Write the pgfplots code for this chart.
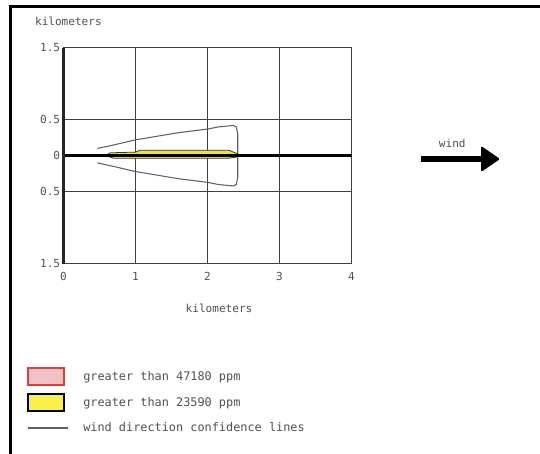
\documentclass[border=0pt]{standalone}
\usepackage{pgfplots}
\pgfplotsset{compat=1.18}
\usepackage{fontspec}
\setmainfont{DejaVu Sans Mono}
\definecolor{txt}{HTML}{505050}
\definecolor{gridc}{HTML}{404040}
\definecolor{conf}{HTML}{606060}
\definecolor{zoney}{HTML}{EDE43A}
\definecolor{legy}{HTML}{FBF04A}
\definecolor{legpink}{HTML}{F0C2C6}
\definecolor{legred}{HTML}{E03C3C}
\newcommand{\tfont}{\fontsize{8.3}{10}\selectfont}
\newcommand{\lfont}{\fontsize{8.9}{10}\selectfont}
\begin{document}
\begin{tikzpicture}
\begin{axis}[
  x=54pt, y=54pt,
  xmin=0, xmax=4, ymin=-1.5, ymax=1.5,
  clip=false,
  axis line style={gridc, line width=1pt},
  grid=major,
  grid style={gridc, line width=0.9pt},
  xtick={0,1,2,3,4},
  ytick={-1.5,-0.5,0,0.5,1.5},
  yticklabels={1.5,0.5,0,0.5,1.5},
  tick style={draw=none},
  /pgf/number format/assume math mode=true,
  ticklabel style={font=\tfont, text=txt},
  yticklabel style={anchor=east, xshift=1pt},
  xticklabel style={anchor=north, yshift=-3pt},
  legend style={at={(axis cs:-0.507,-2.93)}, anchor=north west, draw=none, fill=none,
    font=\lfont, text=txt, inner sep=0pt, row sep=5pt,
    nodes={inner sep=1pt},
    /tikz/every odd column/.append style={column sep=9.5pt}},
  legend cell align=left,
]
% wind direction confidence lines
\addplot[conf, line width=0.8pt, forget plot] coordinates {
  (0.47,0.10) (0.7,0.15) (1.0,0.22) (1.3,0.27) (1.6,0.32) (2.0,0.37) (2.15,0.40) (2.36,0.42) (2.40,0.40)
  (2.42,0.30) (2.42,0.0) (2.42,-0.30) (2.40,-0.40) (2.36,-0.42) (2.15,-0.40) (2.0,-0.37)
  (1.6,-0.32) (1.3,-0.27) (1.0,-0.22) (0.7,-0.15) (0.47,-0.10)};
% threat zone > 23590 ppm
\addplot[draw=black!80, line width=0.6pt, fill=zoney, forget plot] coordinates {
  (0.58,0) (0.65,0.04) (1.0,0.05) (1.06,0.075) (2.3,0.075) (2.42,0.025) (2.42,-0.015)
  (2.3,-0.035) (0.7,-0.035) (0.58,0)} -- cycle;
% downwind axis
\addplot[black, line width=2pt, forget plot] coordinates {(0,0) (4,0)};
% legend
\addlegendimage{legend image code/.code={\draw[draw=legred, fill=legpink, line width=1.5pt] (0pt,-6.5pt) rectangle (27pt,6.5pt);}}
\addlegendentry{greater than 47180 ppm}
\addlegendimage{legend image code/.code={\draw[draw=black, fill=legy, line width=1.5pt] (0pt,-6.5pt) rectangle (27pt,6.5pt);}}
\addlegendentry{greater than 23590 ppm}
\addlegendimage{legend image code/.code={\path[draw=none, fill=none] (0pt,-6.5pt) rectangle (27pt,6.5pt); \draw[conf, line width=1.5pt] (0pt,0pt) -- (30pt,0pt);}}
\addlegendentry{wind direction confidence lines}
% decorations
\draw[black!85, line width=2.2pt] (axis cs:0,-1.5) -- (axis cs:0,1.5);
\node[font=\tfont, text=txt, anchor=west] at (axis cs:-0.46,1.87) {kilometers};
\node[font=\tfont, text=txt] at (axis cs:2.16,-2.115) {kilometers};
\node[font=\tfont, text=txt] at (axis cs:5.40,0.176) {wind};
\draw[black, line width=5.2pt] (axis cs:4.965,-0.046) -- (axis cs:5.85,-0.046);
\fill[black, rounded corners=1pt] (axis cs:5.80,0.135) -- (axis cs:6.063,-0.046) -- (axis cs:5.80,-0.226) -- cycle;
\draw[black, line width=1.6pt] (axis cs:-0.736,-4.143) -- (axis cs:-0.736,2.072) -- (axis cs:6.618,2.072);
\coordinate (bbtl) at (axis cs:-0.882,2.1625);
\coordinate (bbbr) at (axis cs:6.618,-4.143);
\end{axis}
\pgfresetboundingbox
\path[use as bounding box] (bbtl) rectangle (bbbr);
\end{tikzpicture}
\end{document}
